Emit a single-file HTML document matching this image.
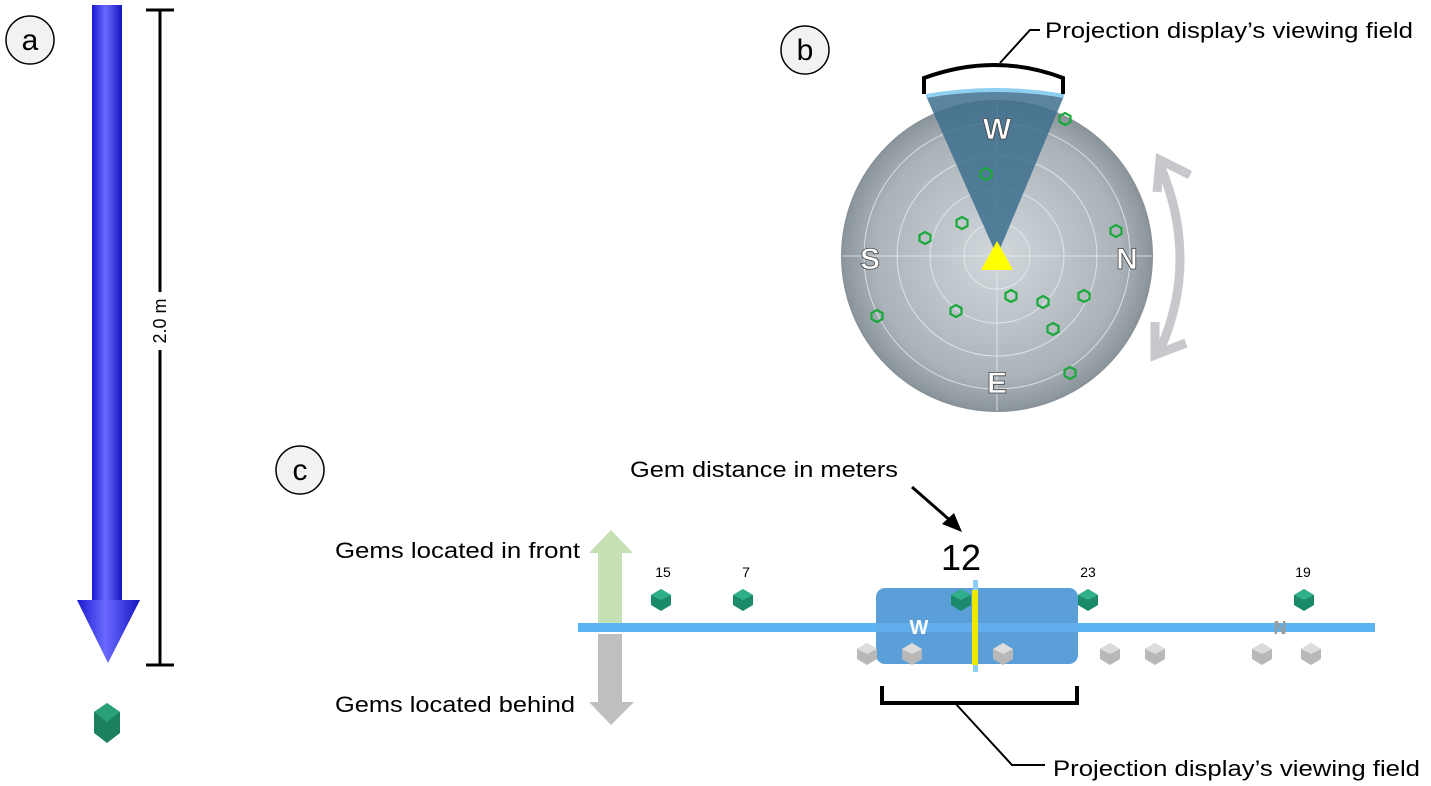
<!DOCTYPE html>
<html><head><meta charset="utf-8"><style>
html,body{margin:0;padding:0;background:#fff;width:1431px;height:786px;overflow:hidden}
svg{display:block}
text{font-family:"Liberation Sans",sans-serif}
</style></head><body>
<svg width="1431" height="786" viewBox="0 0 1431 786">
<defs>
<linearGradient id="bl" x1="0" x2="1"><stop offset="0" stop-color="#1a1ad0"/><stop offset="0.45" stop-color="#6a6aff"/><stop offset="1" stop-color="#1515c0"/></linearGradient>
<radialGradient id="rg" cx="0.5" cy="0.5" r="0.5"><stop offset="0" stop-color="#d2d8dc"/><stop offset="0.8" stop-color="#aab3b9"/><stop offset="1" stop-color="#8a949b"/></radialGradient>
<g id="gg"><polygon points="0,-11 10,-5 10,5 0,11 -10,5 -10,-5" fill="#1a8a6a"/><polygon points="0,-11 10,-5 0,0 -10,-5" fill="#2fb08a"/></g>
<g id="gy"><polygon points="0,-11 10,-5 10,5 0,11 -10,5 -10,-5" fill="#b8b8b8"/><polygon points="0,-11 10,-5 0,0 -10,-5" fill="#dcdcdc"/></g>
<polygon id="hx" points="0,-6 5.5,-3 5.5,3 0,6 -5.5,3 -5.5,-3" fill="none" stroke="#1aa83a" stroke-width="2.2"/>
</defs>
<!-- a -->
<circle cx="30" cy="40" r="24" fill="#f2f2f2" stroke="#000" stroke-width="1.5"/>
<text x="30" y="50" font-size="30" text-anchor="middle">a</text>
<rect x="92" y="5" width="30" height="597" fill="url(#bl)"/>
<polygon points="77,600 140,600 108,663" fill="url(#bl)"/>
<line x1="160" y1="10" x2="160" y2="292" stroke="#000" stroke-width="3"/>
<line x1="160" y1="350" x2="160" y2="665" stroke="#000" stroke-width="3"/>
<line x1="146" y1="10" x2="174" y2="10" stroke="#000" stroke-width="3"/>
<line x1="146" y1="665" x2="174" y2="665" stroke="#000" stroke-width="3"/>
<text x="0" y="0" font-size="18" text-anchor="middle" transform="translate(166,321) rotate(-90)">2.0 m</text>
<polygon points="107,703 120,712 120,733 107,743 94,733 94,712" fill="#1a8060"/>
<polygon points="107,703 120,712 107,722 94,712" fill="#2aa07a"/>
<!-- b -->
<circle cx="805" cy="50" r="24" fill="#f2f2f2" stroke="#000" stroke-width="1.5"/>
<text x="805" y="60" font-size="30" text-anchor="middle">b</text>
<circle cx="997" cy="256" r="155" fill="url(#rg)" stroke="#8a9299" stroke-width="2"/>
<g fill="none" stroke="#e8ecef" stroke-width="1" opacity="0.8">
<circle cx="997" cy="256" r="33"/><circle cx="997" cy="256" r="67"/><circle cx="997" cy="256" r="100"/><circle cx="997" cy="256" r="133"/>
<line x1="842" y1="256" x2="1152" y2="256"/><line x1="997" y1="101" x2="997" y2="411"/></g>
<path d="M997,256 L926,96 Q995,84 1064,96 Z" fill="#3d6e8e" opacity="0.85"/>
<path d="M926,96 Q995,84 1064,96" fill="none" stroke="#8fd0f0" stroke-width="4"/>
<polygon points="997,241 1013,270 981,270" fill="#ffff00"/>
<g font-size="30" font-weight="bold" fill="#fff" stroke="#444" stroke-width="0.8" text-anchor="middle">
<text x="997" y="139">W</text><text x="870" y="269">S</text><text x="1127" y="269">N</text><text x="997" y="393">E</text></g>
<use href="#hx" x="1065" y="119"/><use href="#hx" x="986" y="174"/><use href="#hx" x="962" y="223"/><use href="#hx" x="925" y="238"/><use href="#hx" x="1116" y="231"/>
<use href="#hx" x="1011" y="296"/><use href="#hx" x="1043" y="302"/><use href="#hx" x="1084" y="296"/><use href="#hx" x="956" y="311"/><use href="#hx" x="877" y="316"/><use href="#hx" x="1053" y="329"/><use href="#hx" x="1070" y="373"/>
<path d="M924,94 L924,78 Q995,52 1063,78 L1063,94" fill="none" stroke="#000" stroke-width="4"/>
<polyline points="1000,63 1030,30 1040,30" fill="none" stroke="#000" stroke-width="2"/>
<text x="1045" y="38" font-size="22" textLength="368" lengthAdjust="spacingAndGlyphs">Projection display’s viewing field</text>
<path d="M1160,165 Q1200,260 1160,350" fill="none" stroke="#c8c8cc" stroke-width="9"/>
<polyline points="1157,192 1160,160 1190,175" fill="none" stroke="#c8c8cc" stroke-width="9"/>
<polyline points="1186,343 1155,355 1155,322" fill="none" stroke="#c8c8cc" stroke-width="9"/>
<!-- c -->
<circle cx="300" cy="470" r="24" fill="#f2f2f2" stroke="#000" stroke-width="1.5"/>
<text x="300" y="480" font-size="30" text-anchor="middle">c</text>
<text x="630" y="477" font-size="22" textLength="268" lengthAdjust="spacingAndGlyphs">Gem distance in meters</text>
<line x1="912" y1="487" x2="952" y2="522" stroke="#000" stroke-width="3"/>
<polygon points="962,532 942,524 954,513" fill="#000"/>
<text x="335" y="558" font-size="22" textLength="245" lengthAdjust="spacingAndGlyphs">Gems located in front</text>
<text x="335" y="712" font-size="22" textLength="240" lengthAdjust="spacingAndGlyphs">Gems located behind</text>
<rect x="598" y="552" width="24" height="76" fill="#c5e0b4"/>
<polygon points="589,553 611,530 633,553" fill="#c5e0b4"/>
<rect x="598" y="634" width="24" height="70" fill="#bfbfbf"/>
<polygon points="589,702 611,725 634,702" fill="#bfbfbf"/>
<rect x="578" y="623" width="797" height="9" fill="#5ab4f4"/>
<rect x="876" y="588" width="202" height="76" rx="9" fill="#5a9fd8"/>
<rect x="876" y="623" width="202" height="9" fill="#62aeec"/>
<rect x="973" y="580" width="5" height="92" fill="#8ccff5"/>
<rect x="972" y="590" width="6" height="75" fill="#f0e800"/>
<text x="919" y="634" font-size="20" font-weight="bold" fill="#fff" text-anchor="middle">W</text>
<text x="1280" y="634" font-size="18" font-weight="bold" fill="#9a9a9a" text-anchor="middle">N</text>
<use href="#gg" x="661" y="600"/><use href="#gg" x="743" y="600"/><use href="#gg" x="961" y="600"/><use href="#gg" x="1088" y="600"/><use href="#gg" x="1304" y="600"/>
<use href="#gy" x="867" y="654"/><use href="#gy" x="912" y="654"/><use href="#gy" x="1003" y="654"/><use href="#gy" x="1110" y="654"/><use href="#gy" x="1155" y="654"/><use href="#gy" x="1262" y="654"/><use href="#gy" x="1311" y="654"/>
<g font-size="14" text-anchor="middle"><text x="663" y="577">15</text><text x="746" y="577">7</text><text x="1088" y="577">23</text><text x="1303" y="577">19</text></g>
<text x="961" y="570" font-size="36" text-anchor="middle">12</text>
<path d="M882,686 L882,703 L1077,703 L1077,686" fill="none" stroke="#000" stroke-width="4"/>
<polyline points="955,703 1012,765 1045,765" fill="none" stroke="#000" stroke-width="2"/>
<text x="1053" y="776" font-size="22" textLength="367" lengthAdjust="spacingAndGlyphs">Projection display’s viewing field</text>
</svg>
</body></html>
